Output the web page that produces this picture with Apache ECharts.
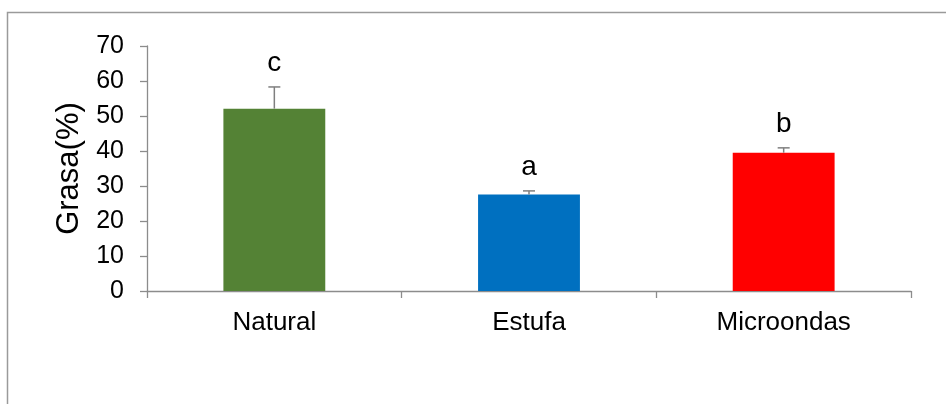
<!DOCTYPE html>
<html>
<head>
<meta charset="utf-8">
<script src="https://cdn.jsdelivr.net/npm/echarts@6/dist/echarts.min.js"></script>
<style>html,body{margin:0;padding:0;background:#fff}#c{width:946px;height:405px}</style>
</head>
<body>
<div id="c"></div>
<script>
var categories = ['Natural', 'Estufa', 'Microondas'];
var values = [52.1, 27.6, 39.5];
var errors = [6.2, 1.0, 1.4];
var letters = ['c', 'a', 'b'];
var colors = ['#548235', '#0070C0', '#FF0000'];
var yTicks = [0, 10, 20, 30, 40, 50, 60, 70];

var chart = echarts.init(document.getElementById('c'), null, {renderer: 'canvas'});
var FONT = 'Liberation Sans, Arial, sans-serif';
chart.setOption({
  animation: false,
  backgroundColor: '#fff',
  graphic: [{
    type: 'polyline',
    shape: {points: [[7.5, 404], [7.5, 12.5], [946, 12.5]]},
    style: {stroke: '#9a9a9a', lineWidth: 1.5, fill: null},
    silent: true
  }],
  grid: {left: 147, right: 35, top: 46, bottom: 114},
  xAxis: {
    type: 'category',
    data: categories,
    axisLine: {lineStyle: {color: '#8c8c8c', width: 1.3}},
    axisTick: {show: true, length: 7, lineStyle: {color: '#8c8c8c', width: 1.3}},
    axisLabel: {color: '#000', fontFamily: FONT, fontSize: 26, margin: 19}
  },
  yAxis: {
    type: 'value',
    min: yTicks[0], max: yTicks[yTicks.length - 1], interval: 10,
    name: 'Grasa(%)',
    nameLocation: 'middle',
    nameGap: 62,
    nameTextStyle: {color: '#000', fontFamily: FONT, fontSize: 31},
    axisLine: {show: true, lineStyle: {color: '#8c8c8c', width: 1.3}},
    axisTick: {show: true, length: 7, lineStyle: {color: '#8c8c8c', width: 1.3}},
    axisLabel: {color: '#000', fontFamily: FONT, fontSize: 25, margin: 23},
    splitLine: {show: false}
  },
  series: [{
    type: 'bar',
    barWidth: '40%',
    data: values.map(function (v, i) { return {value: v, itemStyle: {color: colors[i]}}; }),
    z: 2
  }, {
    type: 'custom',
    z: 3,
    data: values.map(function (v, i) { return [i, v, v + errors[i], letters[i]]; }),
    renderItem: function (params, api) {
      var i = api.value(0);
      var base = api.coord([i, api.value(1)]);
      var top = api.coord([i, api.value(2)]);
      var cap = 6;
      return {
        type: 'group',
        children: [{
          type: 'line',
          shape: {x1: base[0], y1: base[1], x2: top[0], y2: top[1]},
          style: {stroke: '#7f7f7f', lineWidth: 1.5}
        }, {
          type: 'line',
          shape: {x1: top[0] - cap, y1: top[1], x2: top[0] + cap, y2: top[1]},
          style: {stroke: '#7f7f7f', lineWidth: 1.5}
        }, {
          type: 'text',
          style: {
            text: letters[params.dataIndex],
            x: top[0], y: top[1] - 10,
            align: 'center', verticalAlign: 'bottom',
            fontFamily: FONT, fontSize: 28, fill: '#000'
          }
        }]
      };
    }
  }]
});
</script>
</body>
</html>
